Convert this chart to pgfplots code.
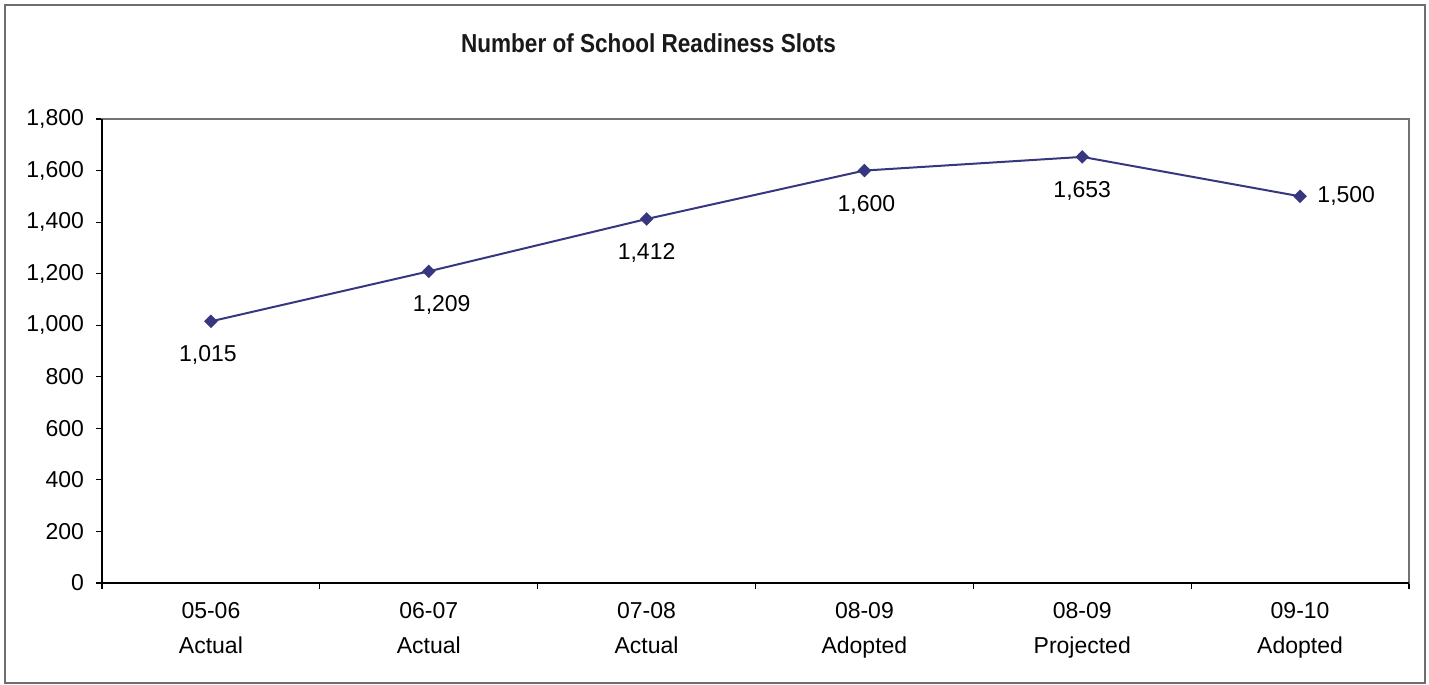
\documentclass[border=0pt]{standalone}
\usepackage{graphicx}
\usepackage{pgfplots}
\pgfplotsset{compat=1.18}
\usepackage{pgfplotstable}
\usepackage{fontspec}
\setmainfont{Liberation Sans}
\definecolor{lineblue}{RGB}{55,55,128}
\definecolor{framegray}{RGB}{110,110,110}
\pgfplotstableread{
x y
0 1015
1 1209
2 1412
3 1600
4 1653
5 1500
}\slots
\pgfplotstableread{
x y dx
0 1015 -1.5
1 1209 6.5
2 1412 0
3 1600 1
4 1653 0
}\belowlabels
\pgfplotstableread{
x y
5 1500
}\rightlabels
\begin{document}
\begin{tikzpicture}
\useasboundingbox (-51pt,-51pt) rectangle (663.5pt,291.5pt);
\draw[framegray, line width=1pt] (-48.5pt,-49.8pt) rectangle (661.5pt,289pt);
\node[font=\bfseries\fontsize{13}{15}\selectfont, text=black!90] at (273.25pt,270pt) {\scalebox{0.868}[1]{Number of School Readiness Slots}};
\begin{axis}[
  scale only axis, width=653.5pt, height=232pt,
  at={(0pt,0pt)}, anchor=south west,
  xmin=-0.5, xmax=5.5, ymin=0, ymax=1800,
  xtick={0,1,2,3,4,5},
  xticklabels={{05-06\\Actual},{06-07\\Actual},{07-08\\Actual},{08-09\\Adopted},{08-09\\Projected},{09-10\\Adopted}},
  xticklabel style={align=center, font=\fontsize{11.5}{17.5}\selectfont, yshift=-3pt},
  minor xtick={-0.5,0.5,1.5,2.5,3.5,4.5,5.5},
  major x tick style={draw=none},
  ytick={0,200,...,1800},
  yticklabel style={font=\fontsize{11.5}{13}\selectfont, xshift=-2.5pt},
  /pgf/number format/1000 sep={,},
  /pgf/number format/assume math mode=true,
  xtick pos=left, ytick pos=left,
  tick align=outside, major tick length=3pt, minor tick length=3pt,
  axis line style={black!55, line width=0.8pt},
  tick style={black, line width=0.6pt},
  clip=false,
]
\addplot[lineblue, line width=1pt, mark=square*, mark size=1.9pt, mark options={rotate=45, fill=lineblue}] table[x=x,y=y]{\slots};
\addplot[draw=none, mark=none, point meta=y,
  visualization depends on={\thisrow{dx} \as \dx},
  nodes near coords={\pgfmathprintnumber[1000 sep={,},assume math mode=true]{\pgfplotspointmeta}},
  nodes near coords style={anchor=north, inner sep=0pt, yshift=-12pt, xshift=\dx pt, font=\fontsize{11.5}{13}\selectfont, text=black}
  ] table[x=x,y=y]{\belowlabels};
\addplot[draw=none, mark=none, point meta=y,
  nodes near coords={\pgfmathprintnumber[1000 sep={,},assume math mode=true]{\pgfplotspointmeta}},
  nodes near coords style={anchor=west, inner sep=0pt, xshift=8.5pt, font=\fontsize{11.5}{13}\selectfont, text=black}
  ] table[x=x,y=y]{\rightlabels};
\end{axis}
\draw[black, line width=0.9pt] (0pt,232pt) -- (0pt,0pt) -- (653.5pt,0pt);
\end{tikzpicture}
\end{document}
